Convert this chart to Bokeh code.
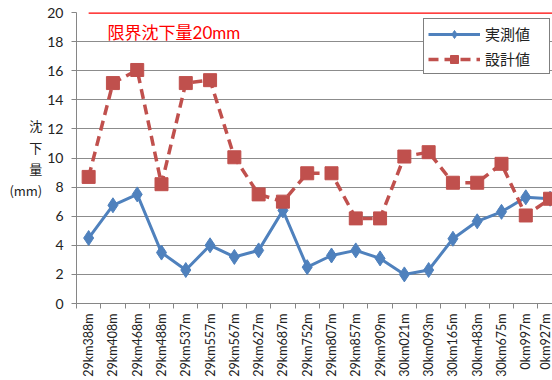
from bokeh.plotting import figure
from bokeh.models import Range1d, FixedTicker, Label, Legend, LegendItem
from bokeh.embed import file_html
from bokeh.resources import INLINE
import math

# Survey stations along the line
stations = [
    "29km388m", "29km408m", "29km468m", "29km488m", "29km537m",
    "29km557m", "29km567m", "29km627m", "29km687m", "29km752m",
    "29km807m", "29km857m", "29km909m", "30km021m", "30km093m",
    "30km165m", "30km483m", "30km675m", "0km997m", "0km927m",
]

# Settlement (mm): measured and design values
measured = [4.5, 6.75, 7.5, 3.5, 2.3, 4.0, 3.2, 3.65, 6.4, 2.5,
            3.3, 3.65, 3.1, 2.0, 2.3, 4.45, 5.65, 6.3, 7.3, 7.2]
design = [8.7, 15.15, 16.05, 8.2, 15.15, 15.35, 10.05, 7.5, 7.0, 8.95,
          8.95, 5.85, 5.85, 10.1, 10.4, 8.3, 8.3, 9.6, 6.05, 7.2]

limit_value = 20
limit_text = "限界沈下量20mm"
y_title = "沈\n下\n量\n(mm)"
y_ticks = [0, 2, 4, 6, 8, 10, 12, 14, 16, 18, 20]

BLUE = "#4F81BD"
RED = "#C0504D"
LATIN = "Lato, 'Noto Sans CJK JP'"
CJK = "'Noto Sans CJK JP'"

xs = list(range(len(stations)))

p = figure(
    width=552, height=380,
    x_range=Range1d(-0.5, 19.1), y_range=Range1d(0, 20),
    output_backend="svg", toolbar_location=None,
    min_border_left=76, min_border_right=0,
    min_border_top=12, min_border_bottom=77,
)
p.outline_line_color = None
p.background_fill_color = "white"

# Axes
p.xaxis.ticker = FixedTicker(ticks=xs, minor_ticks=[i - 0.5 for i in xs] + [len(xs) - 0.5])
p.xaxis.major_label_overrides = {i: s for i, s in enumerate(stations)}
p.xaxis.major_label_orientation = math.pi / 2
p.xaxis.major_tick_line_color = None
p.xaxis.major_tick_out = 5
p.xaxis.major_tick_in = 0
p.xaxis.minor_tick_line_color = "#868686"
p.xaxis.minor_tick_out = 5
p.xaxis.minor_tick_in = 0
p.xaxis.major_label_standoff = 5
p.xaxis.major_label_text_font = LATIN
p.xaxis.major_label_text_font_size = "12.5px"
p.xaxis.major_label_text_color = "#222222"
p.xaxis.axis_line_color = "#868686"

p.yaxis.ticker = FixedTicker(ticks=y_ticks)
p.yaxis.minor_tick_line_color = None
p.yaxis.major_tick_out = 5
p.yaxis.major_tick_in = 0
p.yaxis.major_tick_line_color = "#868686"
p.yaxis.axis_line_color = "#868686"
p.yaxis.major_label_standoff = 8
p.yaxis.major_label_text_font = LATIN
p.yaxis.major_label_text_font_size = "14px"
p.yaxis.major_label_text_color = "#222222"

# Stacked vertical title on the value axis
p.yaxis.axis_label = y_title
p.yaxis.axis_label_orientation = "horizontal"
p.yaxis.axis_label_standoff = 2
p.yaxis.axis_label_text_font = CJK
p.yaxis.axis_label_text_font_size = "13px"
p.yaxis.axis_label_text_font_style = "normal"
p.yaxis.axis_label_text_color = "#222222"
p.yaxis.axis_label_text_line_height = 1.15

p.xgrid.grid_line_color = None
p.ygrid.ticker = FixedTicker(ticks=y_ticks)
p.ygrid.grid_line_color = "#8c8c8c"
p.ygrid.grid_line_width = 1

# Series
bl = p.line(xs, measured, color=BLUE, line_width=3)
bs = p.scatter(xs, measured, marker="diamond", size=15, color=BLUE)
rl = p.line(xs, design, color=RED, line_width=3.5, line_dash="10 6")
rs = p.scatter(xs, design, marker="square", size=13, color=RED)

# Limit line
p.segment(x0=xs[0], y0=limit_value, x1=xs[-1] + 0.5, y1=limit_value,
          color="#FF0000", line_width=2.5)
p.add_layout(Label(x=0.78, y=18.6, text=limit_text, text_color="#FF0000",
                   text_font=LATIN, text_font_size="17px",
                   text_baseline="middle", text_align="left"))

legend = Legend(
    items=[LegendItem(label="実測値", renderers=[bl, bs]),
           LegendItem(label="設計値", renderers=[rl, rs])],
    location=(347, 229), orientation="vertical",
    padding=4, spacing=4, margin=0,
    glyph_width=52, glyph_height=20, label_height=20,
    label_standoff=5, label_width=60,
    label_text_font=CJK, label_text_font_size="15px", label_text_color="#222222",
    border_line_color="black", border_line_width=1,
    background_fill_color="white", background_fill_alpha=1,
)
p.add_layout(legend)

open("out.html", "w").write(file_html(p, INLINE))
